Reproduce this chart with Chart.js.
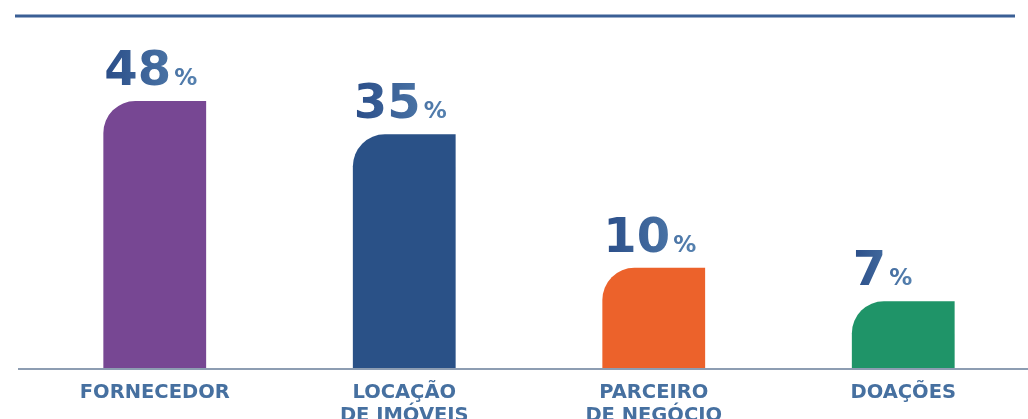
<!DOCTYPE html>
<html>
<head>
<meta charset="utf-8">
<script src="https://cdn.jsdelivr.net/npm/chart.js@4"></script>
<style>
  html, body { margin: 0; padding: 0; background: #fff; }
  #wrap { width: 1028px; height: 419px; }
</style>
</head>
<body>
<div id="wrap"><canvas id="myChart"></canvas></div>
<script>
const categories = [['FORNECEDOR'], ['LOCAÇÃO', 'DE IMÓVEIS'], ['PARCEIRO', 'DE NEGÓCIO'], ['DOAÇÕES']]
const percentages = [48, 35, 10, 7]
// bar lengths as drawn in the picture (not proportional to the labels)
const barHeights = [48, 42, 18, 12]
const barColors = ['#774793', '#2a5187', '#ec622b', '#1f9468']

const ctx = document.getElementById('myChart').getContext('2d')

const lines = {
    id: 'lines',
    beforeDatasetsDraw(chart) {
        const c = chart.ctx
        const area = chart.chartArea
        c.save()
        c.strokeStyle = '#3a5f95'
        c.lineWidth = 3
        c.beginPath()
        c.moveTo(15, 16)
        c.lineTo(1015, 16)
        c.stroke()
        c.strokeStyle = '#8d9db2'
        c.lineWidth = 2
        c.beginPath()
        c.moveTo(18, area.bottom + 1)
        c.lineTo(chart.width, area.bottom + 1)
        c.stroke()
        c.restore()
    }
}

const valueLabels = {
    id: 'valueLabels',
    afterDatasetsDraw(chart) {
        const c = chart.ctx
        const meta = chart.getDatasetMeta(0)
        c.save()
        c.textBaseline = 'alphabetic'
        meta.data.forEach((bar, i) => {
            const left = bar.x - bar.width / 2 + 1
            const y = bar.y - 16
            const num = String(percentages[i])
            c.font = 'bold 48px "DejaVu Sans"'
            const w1 = c.measureText(num).width
            c.font = 'bold 23px "DejaVu Sans"'
            const w2 = c.measureText('%').width
            const g = c.createLinearGradient(left, 0, left + w1 + w2 + 3, 0)
            g.addColorStop(0, '#2a4d88')
            g.addColorStop(1, '#5682b0')
            c.fillStyle = g
            c.font = 'bold 48px "DejaVu Sans"'
            c.fillText(num, left, y)
            c.font = 'bold 23px "DejaVu Sans"'
            c.fillText('%', left + w1 + 3, y)
        })
        c.restore()
    }
}

const myChart = new Chart(ctx, {
    type: 'bar',
    data: {
        labels: categories,
        datasets: [{
            data: barHeights,
            backgroundColor: barColors,
            borderRadius: { topLeft: 32, topRight: 0, bottomLeft: 0, bottomRight: 0 },
            borderSkipped: false,
            barPercentage: 0.412,
            categoryPercentage: 1
        }]
    },
    options: {
        responsive: true,
        maintainAspectRatio: false,
        animation: false,
        layout: { padding: { top: 16, left: 30, right: 0, bottom: 0 } },
        plugins: {
            legend: { display: false },
            tooltip: { enabled: false }
        },
        scales: {
            x: {
                grid: { display: false },
                border: { display: false },
                afterFit(scale) { scale.height = 51 },
                ticks: {
                    color: '#4670a0',
                    font: { family: 'DejaVu Sans', size: 19.5, weight: 'bold', lineHeight: 1.18 },
                    padding: 5,
                    maxRotation: 0
                }
            },
            y: {
                display: false,
                min: 0,
                max: 63.28
            }
        }
    },
    plugins: [lines, valueLabels]
})
</script>
</body>
</html>
